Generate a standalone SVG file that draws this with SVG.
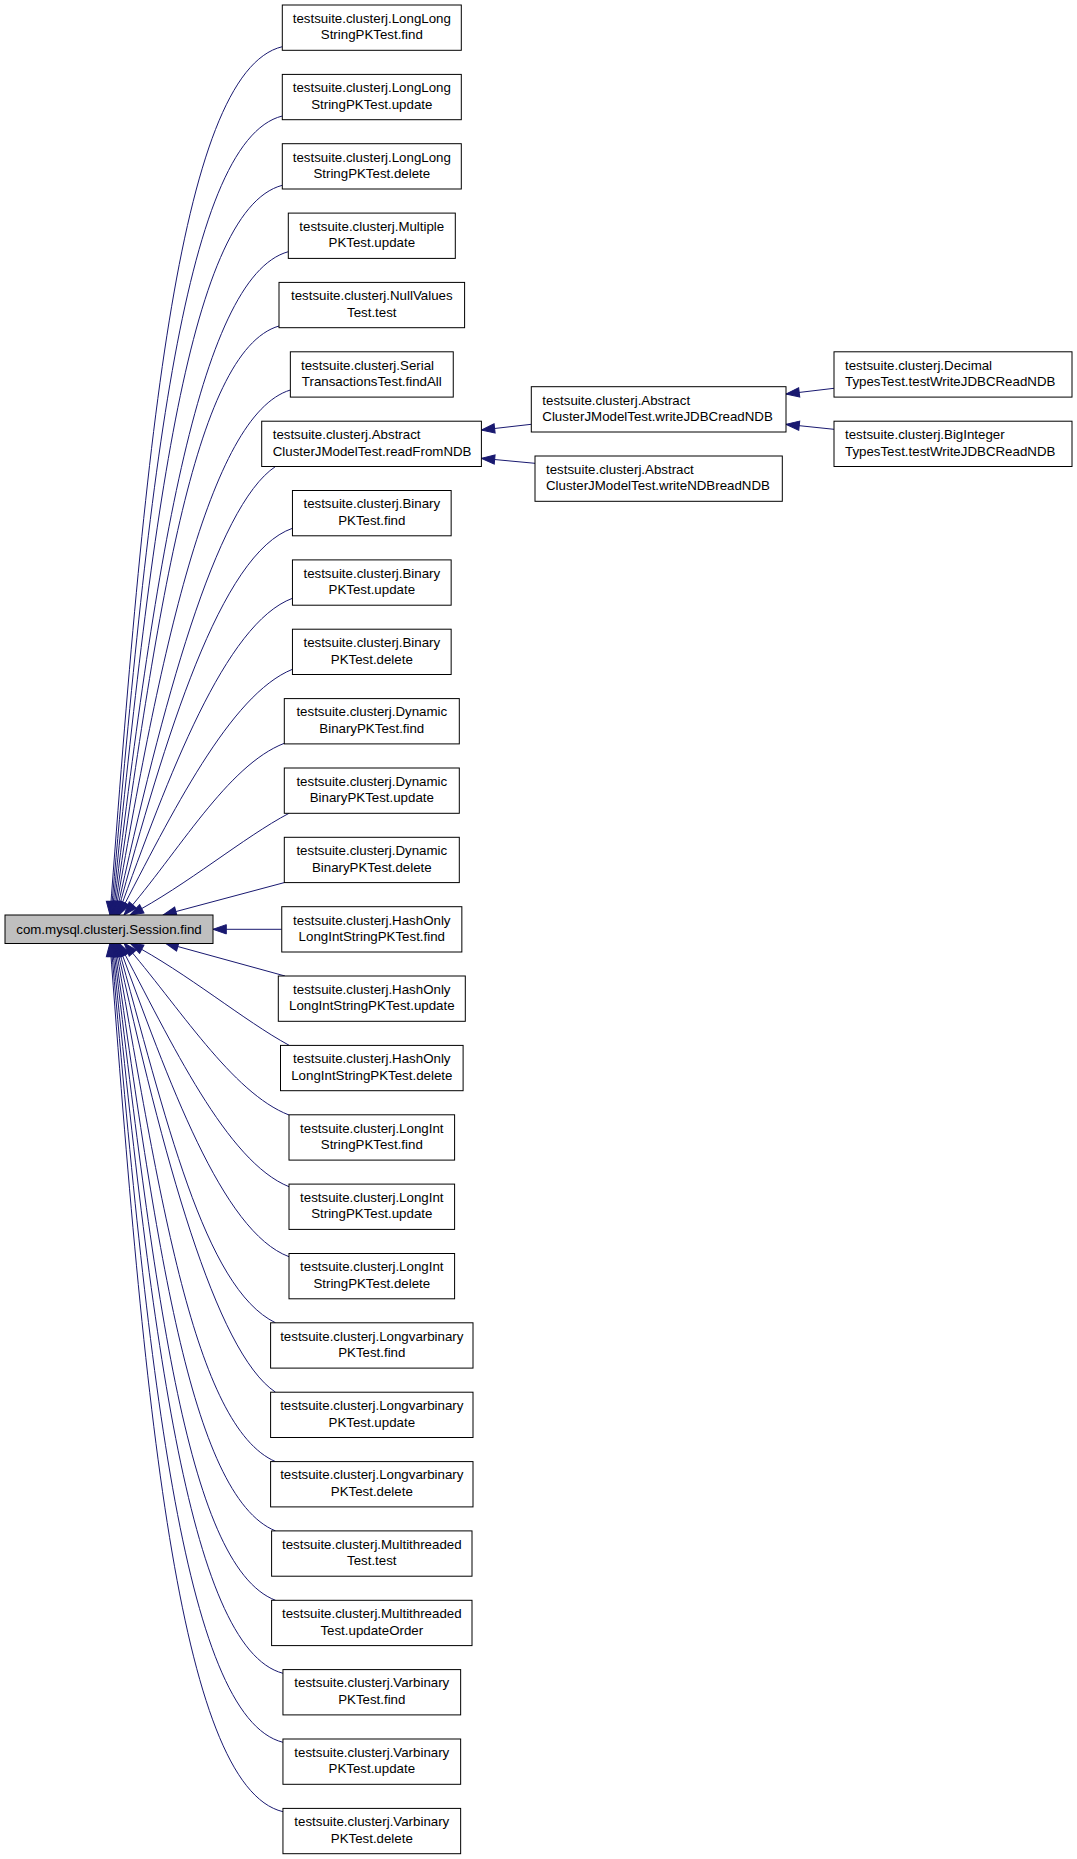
<svg xmlns="http://www.w3.org/2000/svg" width="1077" height="1859" viewBox="0 0 1077 1859">
<style>
.node rect{fill:#ffffff;stroke:#000000;stroke-width:1}
.node text{font-family:"Liberation Sans",Arial,sans-serif;font-size:13.3px;fill:#000000;text-anchor:middle}
.node text.l{text-anchor:start}
#main rect{fill:#bfbfbf}
.edges path{fill:none;stroke:#191970;stroke-width:1;marker-end:url(#ah)}
</style>
<defs>
<marker id="ah" markerUnits="userSpaceOnUse" viewBox="-1 -1 16 12" markerWidth="16" markerHeight="12" refX="13.3" refY="4.65" orient="auto">
<path d="M0,0 L13.3,4.65 L0,9.3 z" fill="#191970" stroke="#191970" stroke-width="1"/>
</marker>
</defs>
<rect x="0" y="0" width="1077" height="1859" fill="#ffffff"/>
<g class="edges">
<path d="M282.3,46.7 C176.5,71.7 144,463.4 110,915"/>
<path d="M282.3,116 C181.4,141 147,503.1 111,915"/>
<path d="M282.3,185.3 C186.2,210.3 150.1,542.8 112,915"/>
<path d="M288.3,251.7 C196.9,276.7 153.1,580.7 113,915"/>
<path d="M279,326 C192.8,351 156.3,623 114,915"/>
<path d="M290.35,390 C208.6,415 159.3,659.2 115,915"/>
<path d="M275.5,466.5 C215.5,506.5 162.6,702.4 116,915"/>
<path d="M292.45,528.3 C220.3,553.3 165.4,736.8 117,915"/>
<path d="M292.45,598.3 C225.2,623.3 168.5,775.4 118,915"/>
<path d="M292.45,669.3 C230.2,694.3 171.6,813.7 119,915"/>
<path d="M284.3,743.3 C227.3,765.3 178.8,852.1 124,915"/>
<path d="M289,813.3 C244,837 187,885.1 130,915"/>
<path d="M284.3,882.6 L163,915"/>
<path d="M281.75,929.3 L213,929.3"/>
<path d="M285,976 L165,943"/>
<path d="M289.3,1045.4 C244.3,1021 187,972.9 130,943"/>
<path d="M289,1115 C232,1093 178.8,1006 124,943"/>
<path d="M289,1186.7 C226.9,1161.7 171.7,1043.2 119,943"/>
<path d="M289,1256.7 C222,1231.7 168.6,1081 118,943"/>
<path d="M275.5,1322.8 C204,1287.8 165.6,1116.8 117,943"/>
<path d="M275.5,1392.2 C215.5,1352 162.6,1155.6 116,943"/>
<path d="M275.5,1461.6 C194.3,1426.6 159.5,1194.3 115,943"/>
<path d="M275.5,1530.9 C189.5,1495.9 155.4,1233.5 114,943"/>
<path d="M275.5,1600.3 C184.6,1565.3 153.3,1273.3 113,943"/>
<path d="M283,1673.3 C186.9,1648.3 150.1,1315.6 112,943"/>
<path d="M283,1742.3 C182,1717.3 147,1355 111,943"/>
<path d="M283,1811.7 C177.2,1786.7 144,1394.8 110,943"/>
<path d="M834,388.3 L786,394"/>
<path d="M834,429.3 L786,424.3"/>
<path d="M531.3,424.3 L481.4,430"/>
<path d="M535,463.3 L481.4,458.3"/>
</g>
<g id="main" class="node"><rect x="5" y="915" width="208" height="28.5"/><text x="109" y="934.2">com.mysql.clusterj.Session.find</text></g>
<g id="n0" class="node"><rect x="282.3" y="5" width="179" height="45.3"/><text x="371.8" y="22.8">testsuite.clusterj.LongLong</text><text x="371.8" y="39.3">StringPKTest.find</text></g>
<g id="n1" class="node"><rect x="282.3" y="74.4" width="179" height="45.3"/><text x="371.8" y="92.2">testsuite.clusterj.LongLong</text><text x="371.8" y="108.7">StringPKTest.update</text></g>
<g id="n2" class="node"><rect x="282.3" y="143.7" width="179" height="45.3"/><text x="371.8" y="161.5">testsuite.clusterj.LongLong</text><text x="371.8" y="178">StringPKTest.delete</text></g>
<g id="n3" class="node"><rect x="288.3" y="213.1" width="167" height="45.3"/><text x="371.8" y="230.9">testsuite.clusterj.Multiple</text><text x="371.8" y="247.4">PKTest.update</text></g>
<g id="n4" class="node"><rect x="279" y="282.4" width="185.6" height="45.3"/><text x="371.8" y="300.2">testsuite.clusterj.NullValues</text><text x="371.8" y="316.7">Test.test</text></g>
<g id="n5" class="node"><rect x="290.35" y="351.8" width="162.9" height="45.3"/><text x="367.5" y="369.6">testsuite.clusterj.Serial</text><text x="371.8" y="386.1">TransactionsTest.findAll</text></g>
<g id="n6" class="node"><rect x="261.7" y="421.2" width="219.7" height="45.3"/><text class="l" x="272.7" y="439">testsuite.clusterj.Abstract</text><text class="l" x="272.7" y="455.5">ClusterJModelTest.readFromNDB</text></g>
<g id="n7" class="node"><rect x="292.45" y="490.5" width="158.7" height="45.3"/><text x="371.8" y="508.3">testsuite.clusterj.Binary</text><text x="371.8" y="524.8">PKTest.find</text></g>
<g id="n8" class="node"><rect x="292.45" y="559.9" width="158.7" height="45.3"/><text x="371.8" y="577.7">testsuite.clusterj.Binary</text><text x="371.8" y="594.2">PKTest.update</text></g>
<g id="n9" class="node"><rect x="292.45" y="629.2" width="158.7" height="45.3"/><text x="371.8" y="647">testsuite.clusterj.Binary</text><text x="371.8" y="663.5">PKTest.delete</text></g>
<g id="n10" class="node"><rect x="284.3" y="698.6" width="175" height="45.3"/><text x="371.8" y="716.4">testsuite.clusterj.Dynamic</text><text x="371.8" y="732.9">BinaryPKTest.find</text></g>
<g id="n11" class="node"><rect x="284.3" y="768" width="175" height="45.3"/><text x="371.8" y="785.8">testsuite.clusterj.Dynamic</text><text x="371.8" y="802.3">BinaryPKTest.update</text></g>
<g id="n12" class="node"><rect x="284.3" y="837.3" width="175" height="45.3"/><text x="371.8" y="855.1">testsuite.clusterj.Dynamic</text><text x="371.8" y="871.6">BinaryPKTest.delete</text></g>
<g id="n13" class="node"><rect x="281.75" y="906.7" width="180.1" height="45.3"/><text x="371.8" y="924.5">testsuite.clusterj.HashOnly</text><text x="371.8" y="941">LongIntStringPKTest.find</text></g>
<g id="n14" class="node"><rect x="278.3" y="976" width="187" height="45.3"/><text x="371.8" y="993.8">testsuite.clusterj.HashOnly</text><text x="371.8" y="1010.3">LongIntStringPKTest.update</text></g>
<g id="n15" class="node"><rect x="280.5" y="1045.4" width="182.6" height="45.3"/><text x="371.8" y="1063.2">testsuite.clusterj.HashOnly</text><text x="371.8" y="1079.7">LongIntStringPKTest.delete</text></g>
<g id="n16" class="node"><rect x="289" y="1114.8" width="165.6" height="45.3"/><text x="371.8" y="1132.6">testsuite.clusterj.LongInt</text><text x="371.8" y="1149.1">StringPKTest.find</text></g>
<g id="n17" class="node"><rect x="289" y="1184.1" width="165.6" height="45.3"/><text x="371.8" y="1201.9">testsuite.clusterj.LongInt</text><text x="371.8" y="1218.4">StringPKTest.update</text></g>
<g id="n18" class="node"><rect x="289" y="1253.5" width="165.6" height="45.3"/><text x="371.8" y="1271.3">testsuite.clusterj.LongInt</text><text x="371.8" y="1287.8">StringPKTest.delete</text></g>
<g id="n19" class="node"><rect x="270.6" y="1322.8" width="202.4" height="45.3"/><text x="371.8" y="1340.6">testsuite.clusterj.Longvarbinary</text><text x="371.8" y="1357.1">PKTest.find</text></g>
<g id="n20" class="node"><rect x="270.6" y="1392.2" width="202.4" height="45.3"/><text x="371.8" y="1410">testsuite.clusterj.Longvarbinary</text><text x="371.8" y="1426.5">PKTest.update</text></g>
<g id="n21" class="node"><rect x="270.6" y="1461.6" width="202.4" height="45.3"/><text x="371.8" y="1479.4">testsuite.clusterj.Longvarbinary</text><text x="371.8" y="1495.9">PKTest.delete</text></g>
<g id="n22" class="node"><rect x="271.6" y="1530.9" width="200.4" height="45.3"/><text x="371.8" y="1548.7">testsuite.clusterj.Multithreaded</text><text x="371.8" y="1565.2">Test.test</text></g>
<g id="n23" class="node"><rect x="271.6" y="1600.3" width="200.4" height="45.3"/><text x="371.8" y="1618.1">testsuite.clusterj.Multithreaded</text><text x="371.8" y="1634.6">Test.updateOrder</text></g>
<g id="n24" class="node"><rect x="282.95" y="1669.6" width="177.7" height="45.3"/><text x="371.8" y="1687.4">testsuite.clusterj.Varbinary</text><text x="371.8" y="1703.9">PKTest.find</text></g>
<g id="n25" class="node"><rect x="282.95" y="1739" width="177.7" height="45.3"/><text x="371.8" y="1756.8">testsuite.clusterj.Varbinary</text><text x="371.8" y="1773.3">PKTest.update</text></g>
<g id="n26" class="node"><rect x="282.95" y="1808.4" width="177.7" height="45.3"/><text x="371.8" y="1826.2">testsuite.clusterj.Varbinary</text><text x="371.8" y="1842.7">PKTest.delete</text></g>
<g id="writeJDBC" class="node"><rect x="531.3" y="386.7" width="254.7" height="45.3"/><text class="l" x="542.3" y="404.5">testsuite.clusterj.Abstract</text><text class="l" x="542.3" y="421">ClusterJModelTest.writeJDBCreadNDB</text></g>
<g id="writeNDB" class="node"><rect x="535" y="456" width="247.3" height="45.3"/><text class="l" x="546" y="473.8">testsuite.clusterj.Abstract</text><text class="l" x="546" y="490.3">ClusterJModelTest.writeNDBreadNDB</text></g>
<g id="decimal" class="node"><rect x="834" y="351.8" width="238" height="45.3"/><text class="l" x="845" y="369.6">testsuite.clusterj.Decimal</text><text class="l" x="845" y="386.1">TypesTest.testWriteJDBCReadNDB</text></g>
<g id="biginteger" class="node"><rect x="834" y="421.2" width="238" height="45.3"/><text class="l" x="845" y="439">testsuite.clusterj.BigInteger</text><text class="l" x="845" y="455.5">TypesTest.testWriteJDBCReadNDB</text></g>
</svg>
